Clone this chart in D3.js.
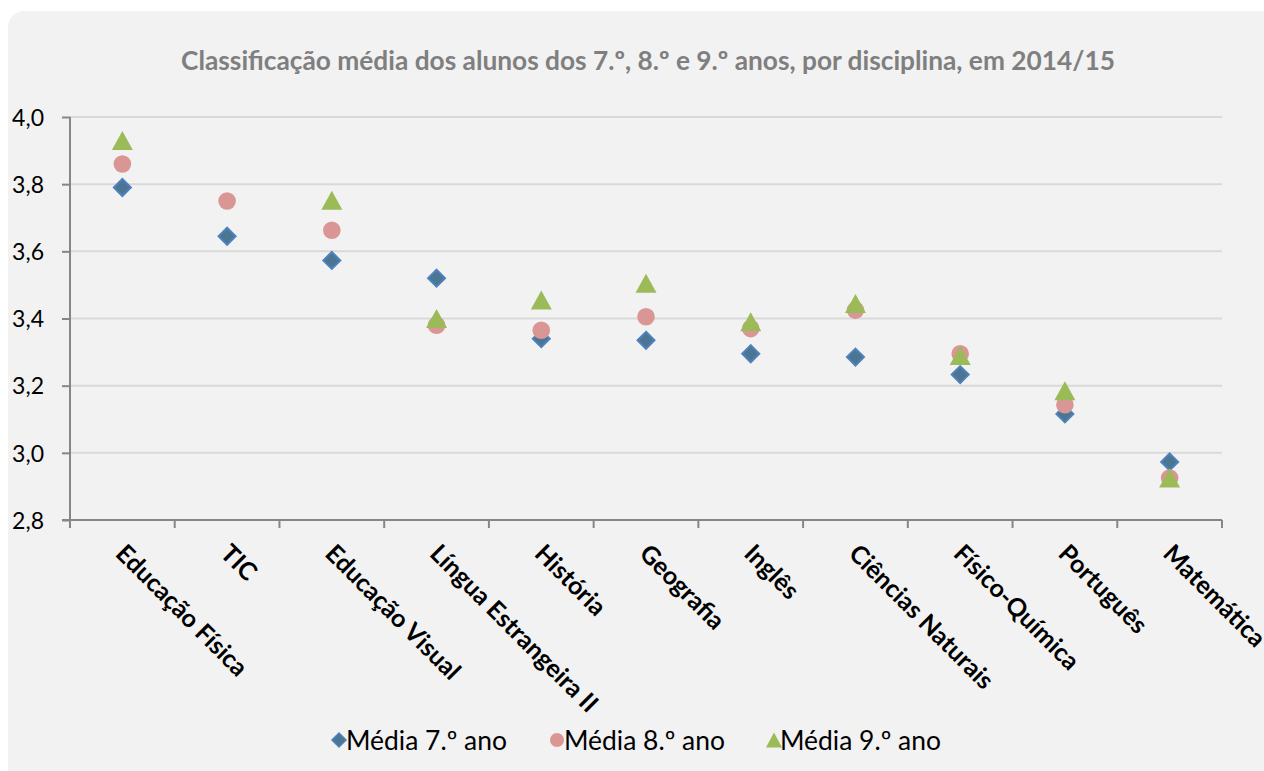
<!DOCTYPE html>
<html>
<head>
<meta charset="utf-8">
<script src="https://cdn.jsdelivr.net/npm/d3@7"></script>
<style>
  html, body { margin: 0; padding: 0; background: #ffffff; }
  svg { display: block; }
  text { font-family: Lato, "Open Sans", sans-serif; }
</style>
</head>
<body>
<svg id="chart" width="1264" height="771"></svg>
<script>
// ---- data ----
const chartTitle = "Classificação média dos alunos dos 7.º, 8.º e 9.º anos, por disciplina, em 2014/15";
const categories = ["Educação Física", "TIC", "Educação Visual", "Língua Estrangeira II", "História",
  "Geografia", "Inglês", "Ciências Naturais", "Físico-Química", "Português", "Matemática"];
const media7 = [3.79, 3.645, 3.573, 3.52, 3.34, 3.335, 3.295, 3.285, 3.233, 3.116, 2.973];
const media8 = [3.86, 3.75, 3.663, 3.38, 3.365, 3.405, 3.37, 3.425, 3.295, 3.143, 2.925];
const media9 = [3.93, null, 3.752, 3.40, 3.455, 3.505, 3.39, 3.445, 3.29, 3.185, 2.925];
const seriesNames = ["Média 7.º ano", "Média 8.º ano", "Média 9.º ano"];
const yTicks = [2.8, 3.0, 3.2, 3.4, 3.6, 3.8, 4.0];

(function () {
const svg = d3.select("#chart");

// background panel
svg.append("rect").attr("x", 8).attr("y", 11).attr("width", 1280).attr("height", 800)
  .attr("rx", 16).attr("ry", 16).attr("fill", "#f2f2f2");

const pLeft = 70, pRight = 1222, pTop = 117, pBottom = 520;
const x = d3.scaleBand().domain(categories).range([pLeft, pRight]).padding(0);
const y = d3.scaleLinear().domain([2.8, 4.0]).range([pBottom, pTop]);

function fit(sel, target) {
  const w = sel.node().getComputedTextLength();
  const fs = parseFloat(sel.attr("font-size"));
  return fs * target / w;
}

// gridlines
svg.append("g").selectAll("line").data(yTicks.filter(d => d > 2.8)).join("line")
  .attr("x1", pLeft).attr("x2", pRight)
  .attr("y1", d => y(d)).attr("y2", d => y(d))
  .attr("stroke", "#d9d9d9").attr("stroke-width", 2);

// y axis
const yAxis = svg.append("g").attr("transform", `translate(${pLeft},0)`)
  .call(d3.axisLeft(y).tickValues(yTicks).tickSize(8).tickPadding(0)
    .tickFormat(d => d3.format(".1f")(d).replace(".", ",")));
yAxis.select(".domain").remove();
yAxis.selectAll(".tick line").attr("stroke", "#868686").attr("stroke-width", 2);
yAxis.append("line").attr("x1", 0).attr("x2", 0).attr("y1", pTop).attr("y2", pBottom + 8)
  .attr("stroke", "#868686").attr("stroke-width", 2);

const probeY = svg.append("text").attr("font-size", 20).text("4,0");
const yFs = fit(probeY, 32);
probeY.remove();
yAxis.selectAll(".tick text")
  .attr("x", -26).attr("dy", "0.36em")
  .attr("font-size", yFs).attr("fill", "#000").attr("text-anchor", "end")
  .attr("font-family", "Lato, 'Open Sans', sans-serif");

// x axis line and ticks at category boundaries
const xg = svg.append("g");
xg.append("line").attr("x1", pLeft - 8).attr("x2", pRight).attr("y1", pBottom).attr("y2", pBottom)
  .attr("stroke", "#868686").attr("stroke-width", 2);
const bounds = categories.map(c => x(c)).concat([x(categories[categories.length - 1]) + x.bandwidth()]);
xg.selectAll("line.tk").data(bounds).join("line").attr("class", "tk")
  .attr("x1", d => d).attr("x2", d => d).attr("y1", pBottom).attr("y2", pBottom + 8)
  .attr("stroke", "#868686").attr("stroke-width", 2);

// x labels
const probeX = svg.append("text").attr("font-size", 20).attr("font-weight", "bold").text("Educação Física");
const xFs = fit(probeX, 174);
probeX.remove();
xg.selectAll("text").data(categories).join("text")
  .attr("transform", d => `translate(${x(d) + x.bandwidth() / 2 - 8},${pBottom + 35}) rotate(45)`)
  .attr("font-size", xFs).attr("font-weight", "bold").attr("fill", "#000")
  .attr("text-anchor", "start").text(d => d);

// title
const t = svg.append("text").attr("x", 648).attr("y", 70).attr("text-anchor", "middle")
  .attr("font-size", 20).attr("font-weight", "bold").attr("fill", "#7f7f7f").text(chartTitle);
t.attr("font-size", fit(t, 934));

// markers
const diamondPath = s => `M0,${-s}L${s},0L0,${s}L${-s},0Z`;
const triPath = (w, h) => `M0,${-h / 2}L${w / 2},${h / 2}L${-w / 2},${h / 2}Z`;
const cx = i => x(categories[i]) + x.bandwidth() / 2;

svg.append("g").selectAll("path").data(media7).join("path")
  .attr("transform", (d, i) => `translate(${cx(i)},${y(d)})`)
  .attr("d", diamondPath(8.5))
  .attr("fill", "#4a7693").attr("stroke", "#4f81bd").attr("stroke-width", 2);

svg.append("g").selectAll("circle").data(media8).join("circle")
  .attr("cx", (d, i) => cx(i)).attr("cy", d => y(d)).attr("r", 8.8)
  .attr("fill", "#da9694");

svg.append("g").selectAll("path")
  .data(media9.map((v, i) => ({ v, i })).filter(d => d.v != null)).join("path")
  .attr("transform", d => `translate(${cx(d.i)},${y(d.v)})`)
  .attr("d", triPath(21, 19))
  .attr("fill", "#9bbb59");

// legend
const lg = svg.append("g");
const legendX = [339, 557, 773];
const legendY = 740;
lg.append("path").attr("transform", `translate(${legendX[0]},${legendY})`).attr("d", diamondPath(7))
  .attr("fill", "#4a7693").attr("stroke", "#4f81bd").attr("stroke-width", 1.5);
lg.append("circle").attr("cx", legendX[1]).attr("cy", legendY).attr("r", 7).attr("fill", "#da9694");
lg.append("path").attr("transform", `translate(${legendX[2] + 1},${legendY})`).attr("d", triPath(16, 15))
  .attr("fill", "#9bbb59");
const probeL = svg.append("text").attr("font-size", 20).text(seriesNames[0]);
const lFs = fit(probeL, 161);
probeL.remove();
lg.selectAll("text").data(seriesNames).join("text")
  .attr("x", (d, i) => legendX[i] + 7).attr("y", legendY).attr("dy", "0.36em")
  .attr("font-size", lFs).attr("fill", "#000").text(d => d);
})();
</script>
</body>
</html>
